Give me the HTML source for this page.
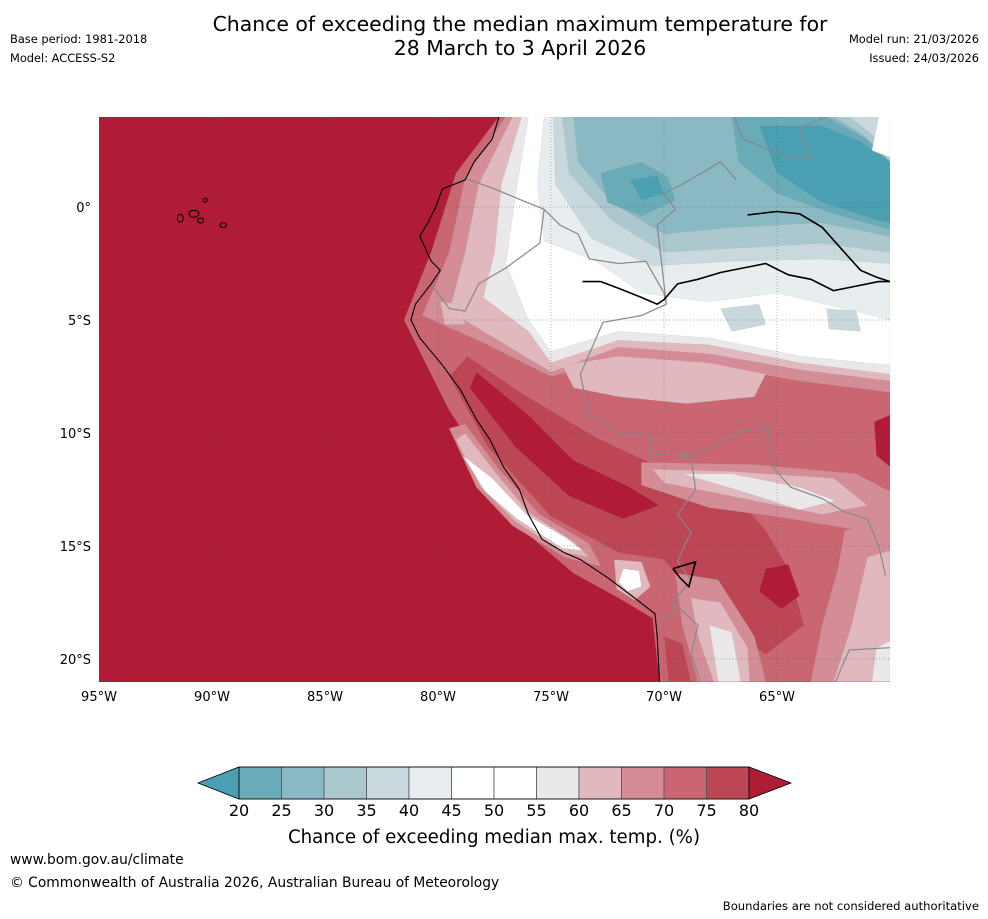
<!DOCTYPE html>
<html><head><meta charset="utf-8"><style>
body{margin:0;background:#fff;font-family:"DejaVu Sans",sans-serif;}
#wrap{position:relative;width:988px;height:919px;overflow:hidden;background:#fff}
.t{position:absolute;white-space:nowrap;color:#000}
</style></head><body>
<div id="wrap">
<div class="t" style="left:0;width:1040px;top:12px;text-align:center;font-size:20.4px;line-height:24px">Chance of exceeding the median maximum temperature for<br>28 March to 3 April 2026</div>
<div class="t" style="left:10px;top:32px;font-size:11.4px">Base period: 1981-2018</div>
<div class="t" style="left:10px;top:51px;font-size:11.4px">Model: ACCESS-S2</div>
<div class="t" style="right:9px;top:32px;font-size:11.4px">Model run: 21/03/2026</div>
<div class="t" style="right:9px;top:51px;font-size:11.4px">Issued: 24/03/2026</div>
<div class="t" style="left:10px;top:852px;font-size:13.8px">www.bom.gov.au/climate</div>
<div class="t" style="left:10px;top:875px;font-size:13.8px">© Commonwealth of Australia 2026, Australian Bureau of Meteorology</div>
<div class="t" style="right:9px;top:899px;font-size:11.6px">Boundaries are not considered authoritative</div>
<svg id="svg" width="988" height="919" style="position:absolute;left:0;top:0"></svg>
</div>
<script>
const levels=[20,25,30,35,40,45,50,55,60,65,70,75,80];
const binColors=["#6aabb8","#8ab8c3","#aac8cd","#c8d8dc","#e8eef0","#ffffff","#ffffff","#ebe8e9","#e0b8bd","#d48c96","#c96672","#bd4655"];
const lowColor="#4aa0b2", highColor="#b01c35";
const lonTicks=[-95,-90,-85,-80,-75,-70,-65];
const latTicks=[0,-5,-10,-15,-20];
const regions=[
 [10,[[-77.3,4],[-79.2,1.5],[-80.3,-2],[-81.5,-5],[-80.5,-7],[-79.5,-9],[-77.5,-12],[-76,-14.5],[-74,-16.2],[-72,-17.3],[-70.5,-18.2],[-70.2,-21],[-60,-21],[-60,4]]],
 [9,[[-77,4],[-78.8,1.3],[-79.5,-2],[-80.7,-4.8],[-78,-6],[-75,-7.5],[-72,-6.7],[-68,-7],[-64,-7.7],[-60,-8.2],[-60,4]]],
 [8,[[-76.7,4],[-78.2,1],[-78.8,-2],[-79.5,-4.6],[-77.5,-5.8],[-75,-7.3],[-72,-6.2],[-68,-6.5],[-64,-7.2],[-60,-7.7],[-60,4]]],
 [7,[[-76.3,4],[-77.2,1],[-77.5,-2],[-78,-4],[-76,-5.5],[-75,-6.9],[-72,-5.9],[-68,-6.1],[-64,-6.9],[-60,-7.4],[-60,4]]],
 [6,[[-76,4],[-76.5,1],[-77,-2.5],[-76,-5],[-75,-6.4],[-72,-5.5],[-68,-5.8],[-64,-6.6],[-60,-7],[-60,4]]],
 [4,[[-75.3,4],[-75.6,1],[-75.3,-1.5],[-73,-2.4],[-71,-3.8],[-68,-4.2],[-65,-3.8],[-62,-4.5],[-60,-5],[-60,4]]],
 [3,[[-74.9,4],[-74.8,1],[-73.2,-1.4],[-70.5,-2.6],[-67,-2.4],[-63,-2.3],[-60,-2.5],[-60,4]]],
 [2,[[-74.5,4],[-74.2,1.5],[-72.3,-0.6],[-70,-2],[-66.5,-1.8],[-63,-1.6],[-60,-2],[-60,2.3],[-60.8,3.2],[-61.8,4]]],
 [1,[[-74,4],[-73.8,2],[-72.3,0.2],[-70,-1.2],[-67,-0.9],[-63,-0.7],[-60,-1.3],[-60,2],[-61.2,3.2],[-62.5,4]]],
 [0,[[-72.8,1.5],[-71,2],[-69.8,1.3],[-69.5,0.3],[-71,-0.4],[-72.5,0.2]]],
 [0,[[-67,4],[-66.7,2],[-65,0.6],[-62.5,-0.3],[-60,-1],[-60,2],[-61,3],[-62.8,4]]],
 [-1,[[-65.8,3.6],[-65,1.5],[-63,0.2],[-60.5,-0.6],[-60,-0.7],[-60,2],[-61.3,2.9],[-63,3.6]]],
 [-1,[[-71.5,1.2],[-70.3,1.4],[-70,0.6],[-71,0.3]]],
 [3,[[-67.5,-4.5],[-65.8,-4.3],[-65.5,-5.2],[-67,-5.5]]],
 [3,[[-62.8,-4.5],[-61.5,-4.6],[-61.3,-5.5],[-62.7,-5.4]]],
 [5,[[-60.8,2.5],[-60,2.2],[-60,4],[-60.5,4]]],
 [8,[[-74.5,-7],[-72,-6.6],[-68,-6.9],[-65.5,-7.4],[-66,-8.4],[-69,-8.7],[-72,-8.4],[-74,-8]]],
 [11,[[-78.7,-6.6],[-76.2,-8.3],[-73,-10.2],[-70,-11.6],[-67,-12.6],[-65.5,-14.3],[-64.5,-16],[-63.8,-18.5],[-65.5,-19.8],[-68,-18.2],[-70,-15.6],[-72,-15.3],[-75,-13.7],[-77.8,-10.6],[-79.5,-7.5]]],
 [12,[[-78.3,-7.3],[-76,-9.2],[-74,-11.2],[-71.5,-12.4],[-70.2,-13.2],[-71.8,-13.8],[-74.2,-12.8],[-76.6,-10.6],[-78.6,-8]]],
 [12,[[-65.5,-16],[-64.5,-15.8],[-64,-17.2],[-64.8,-17.8],[-65.8,-17]]],
 [12,[[-60.7,-9.5],[-60,-9.2],[-60,-11.5],[-60.6,-11]]],
 [9,[[-71,-11.3],[-66,-11.4],[-61.5,-11.8],[-60,-12.6],[-60,-14.5],[-62,-14.2],[-65,-13.7],[-68,-13.3],[-71,-12.3]]],
 [8,[[-70.5,-11.6],[-67,-11.7],[-62.5,-12],[-61,-13.2],[-63,-13.6],[-66,-13],[-70,-12.2]]],
 [7,[[-69.2,-11.8],[-67,-11.8],[-64,-12.4],[-62.4,-13],[-64,-13.4],[-66.5,-12.6]]],
 [9,[[-62,-14.3],[-60,-14],[-60,-21],[-63.5,-21],[-63,-18.5],[-62.3,-16]]],
 [8,[[-61,-15.5],[-60,-15.2],[-60,-21],[-62.5,-21],[-61.7,-18.5]]],
 [7,[[-60.6,-19.5],[-60,-19.2],[-60,-21],[-60.8,-21]]],
 [9,[[-69.5,-16.2],[-67.6,-16.5],[-66,-19],[-65.5,-21],[-68.5,-21],[-69.2,-18.5]]],
 [8,[[-68.8,-17.3],[-67.5,-17.5],[-66.3,-19.5],[-66.2,-21],[-67.8,-21],[-68.5,-19]]],
 [7,[[-68,-18.5],[-67,-18.8],[-66.6,-21],[-67.6,-21]]],
 [11,[[-70,-19],[-69.2,-19.3],[-68.8,-21],[-69.8,-21]]],
 [9,[[-79.5,-9.8],[-78.3,-12.4],[-76.7,-14.1],[-74.4,-15.5],[-72.8,-15.9],[-73.3,-14.9],[-75.5,-13.6],[-77.3,-11.6],[-78.8,-9.6]]],
 [8,[[-79.2,-10.3],[-78.1,-12.4],[-76.6,-13.9],[-74.5,-15.25],[-73.3,-15.5],[-74,-14.8],[-76,-13.5],[-77.5,-11.7],[-78.8,-10]]],
 [6,[[-78.9,-11],[-77.9,-12.6],[-76.5,-13.8],[-74.5,-15.1],[-73.6,-15.2],[-74.4,-14.6],[-76.1,-13.6],[-77.6,-12]]],
 [8,[[-72.2,-15.6],[-71,-15.7],[-70.6,-16.8],[-71.3,-17.4],[-72.1,-16.9]]],
 [6,[[-71.8,-16],[-71.1,-16.1],[-71,-16.8],[-71.6,-17],[-72,-16.6]]],
 [8,[[-79.9,-4.2],[-79,-4.3],[-78.8,-5.2],[-79.7,-5.2]]]
];
const coast=[[-77.3,4],[-77.6,3],[-78.4,2],[-78.8,1.2],[-79.8,0.8],[-80.1,0],[-80.4,-0.6],[-80.8,-1.3],[-80.3,-2.4],[-79.9,-2.8],[-80.3,-3.4],[-81,-4.3],[-81.2,-5],[-80.8,-5.8],[-79.8,-7],[-79,-8.1],[-78.3,-9.4],[-77.7,-10.3],[-77.1,-11.5],[-76.4,-12.5],[-76,-13.6],[-75.4,-14.7],[-74.4,-15.3],[-73.7,-15.6],[-72.5,-16.4],[-71.3,-17.3],[-70.4,-18],[-70.3,-19],[-70.2,-21]];
const borders=[
 [[-78.9,1.3],[-77.5,0.8],[-76.3,0.3],[-75.3,-0.1],[-74.6,-0.8],[-73.8,-1.2],[-73.3,-2.3],[-72,-2.5],[-70.8,-2.4],[-70,-3.8],[-69.9,-4.3]],
 [[-80.3,-3.4],[-79.5,-4.5],[-78.8,-4.6],[-78.2,-3.4],[-77,-2.7],[-75.5,-1.6],[-75.3,-0.1]],
 [[-69.9,-4.3],[-71,-4.8],[-72.7,-5.1],[-73.3,-6.5],[-73.7,-7.4],[-73.3,-9.3],[-72.6,-9.5],[-72.2,-10],[-70.6,-10.1],[-70.6,-11],[-69.6,-10.9],[-68.8,-11.1],[-68.6,-12.5],[-69.4,-13.6],[-68.8,-14.4],[-69.2,-15.2],[-69.4,-15.7]],
 [[-69.6,-10.9],[-68.6,-11],[-68,-10.7],[-66.6,-9.9],[-65.4,-9.8],[-65.2,-11.5],[-64.4,-12.4],[-63,-12.9],[-62,-13.5],[-61,-13.8],[-60.5,-15],[-60.2,-16.3]],
 [[-69.4,-15.7],[-68.8,-16.5],[-69.6,-17.5],[-69.5,-18],[-70.3,-18.3]],
 [[-69.6,-17.5],[-68.5,-18.5],[-68.8,-19.8],[-68.4,-21]],
 [[-69.9,-4.3],[-70.3,-0.8],[-69.5,-0.1],[-70,0.6],[-69.2,1],[-67.5,2],[-66.8,1.2]],
 [[-66.9,4],[-66.5,3],[-64.5,2.2],[-63.5,2.1],[-64,3.5],[-62.8,4]],
 [[-60,-19.5],[-61.8,-19.6],[-62.2,-20.5],[-62.4,-21]]
];
const rivers=[
 [[-73.6,-3.3],[-72.8,-3.3],[-72,-3.6],[-71,-4],[-70.3,-4.3],[-70,-4.1],[-69.4,-3.4],[-68.5,-3.2],[-67.5,-2.9],[-66.5,-2.7],[-65.5,-2.5],[-64.5,-3],[-63.5,-3.2],[-62.5,-3.7],[-61.5,-3.5],[-60.5,-3.3],[-60,-3.3]],
 [[-66.3,-0.35],[-65,-0.2],[-64,-0.3],[-63,-0.9],[-62.2,-1.8],[-61.3,-2.8],[-60.6,-3.1],[-60,-3.3]],
 [[-69.6,-16],[-68.6,-15.7],[-68.9,-16.8],[-69.3,-16.4],[-69.6,-16]]
];
const X0=99,Y0=207,S=22.6;
function x(lon){return X0+(lon+95)*S;}
function y(lat){return Y0-lat*S;}
function col(i){return i<0?lowColor:(i>11?highColor:binColors[i]);}
const NS="http://www.w3.org/2000/svg";
const FF='DejaVu Sans, sans-serif';
const svg=document.getElementById('svg');
function mk(tag,attrs,parent){const e=document.createElementNS(NS,tag);for(const k in attrs)e.setAttribute(k,attrs[k]);(parent||svg).appendChild(e);return e;}
function pts(a){return a.map(p=>x(p[0]).toFixed(1)+','+y(p[1]).toFixed(1)).join(' ');}
const defs=mk('defs',{});
const cp=mk('clipPath',{id:'mapclip'},defs);
mk('rect',{x:99,y:117,width:791,height:565},cp);
const g=mk('g',{'clip-path':'url(#mapclip)'});


const bg=mk('rect',{x:99,y:117,width:791,height:565,fill:highColor},g);


regions.forEach(r=>{
 const p=mk('polygon',{points:pts(r[1]),fill:col(r[0]),stroke:'#999','stroke-width':0.3,'stroke-opacity':0.5,'stroke-linejoin':'round'},g);
 
 
});
lonTicks.slice(1).forEach(l=>{const e=mk('line',{x1:x(l),x2:x(l),y1:117,y2:682,stroke:'#555','stroke-width':0.7,'stroke-dasharray':'1,2','stroke-opacity':0.6},g);
 });
latTicks.forEach(l=>{const e=mk('line',{x1:99,x2:890,y1:y(l),y2:y(l),stroke:'#555','stroke-width':0.7,'stroke-dasharray':'1,2','stroke-opacity':0.6},g);
 });
borders.forEach(b=>{const e=mk('polyline',{points:pts(b),fill:'none',stroke:'#888','stroke-width':1.2},g);
 });
rivers.forEach(b=>{const e=mk('polyline',{points:pts(b),fill:'none',stroke:'#000','stroke-width':1.6},g);
 });
const cl=mk('polyline',{points:pts(coast),fill:'none',stroke:'#000','stroke-width':1.1},g);

[[-90.8,-0.3,8,5],[-90.5,-0.6,4,3],[-89.5,-0.8,4,3],[-91.4,-0.5,4,6],[-90.3,0.3,2,2]].forEach(s=>{
 const e=mk('ellipse',{cx:x(s[0]),cy:y(s[1]),rx:s[2]/2+1,ry:s[3]/2+1,fill:'none',stroke:'#000','stroke-width':1},g);
 });
lonTicks.forEach(l=>{const t=mk('text',{x:x(l),y:701,'text-anchor':'middle','font-size':13,'font-family':FF});t.textContent=(-l)+'°W';
 });
latTicks.forEach(l=>{const t=mk('text',{x:91,y:y(l)+5,'text-anchor':'end','font-size':13,'font-family':FF});t.textContent=l===0?'0°':(-l)+'°S';
 });
const cb0=239,cb1=749,cy0=767,cy1=799;
function cx(v){return cb0+(v-levels[0])/(levels[12]-levels[0])*(cb1-cb0);}
const lt=mk('polygon',{points:`${cb0},${cy0} ${cb0},${cy1} 198,783`,fill:lowColor,stroke:'#000','stroke-width':0.8});

const rt=mk('polygon',{points:`${cb1},${cy0} ${cb1},${cy1} 791,783`,fill:highColor,stroke:'#000','stroke-width':0.8});

binColors.forEach((c,i)=>{const r=mk('rect',{x:cx(levels[i]),y:cy0,width:cx(levels[i+1])-cx(levels[i]),height:cy1-cy0,fill:c,stroke:'#555','stroke-width':0.8});
 });
const ob=mk('rect',{x:cb0,y:cy0,width:cb1-cb0,height:cy1-cy0,fill:'none',stroke:'#000','stroke-width':0.8});

levels.forEach(v=>{const t=mk('text',{x:cx(v),y:816,'text-anchor':'middle','font-size':16,'font-family':FF});t.textContent=v;
 });
const ct=mk('text',{x:494,y:843,'text-anchor':'middle','font-size':18.2,'font-family':FF});ct.textContent='Chance of exceeding median max. temp. (%)';

</script>
</body></html>
